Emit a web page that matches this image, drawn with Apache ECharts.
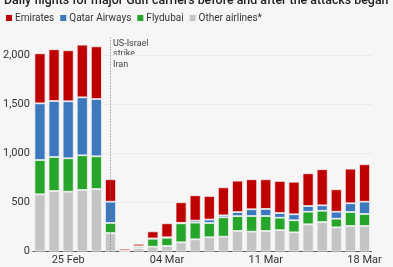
<!DOCTYPE html>
<html>
<head>
<meta charset="utf-8">
<script src="https://cdn.jsdelivr.net/npm/echarts@6/dist/echarts.min.js"></script>
<style>
html,body{margin:0;padding:0;background:#f6f6f6;}
#c{width:393px;height:267px;}
</style>
</head>
<body>
<div id="c"></div>
<script>
const dates = ['23 Feb','24 Feb','25 Feb','26 Feb','27 Feb','28 Feb','01 Mar','02 Mar','03 Mar','04 Mar','05 Mar','06 Mar','07 Mar','08 Mar','09 Mar','10 Mar','11 Mar','12 Mar','13 Mar','14 Mar','15 Mar','16 Mar','17 Mar','18 Mar'];
const tickLabels = ['25 Feb','04 Mar','11 Mar','18 Mar'];
const yTicks = [0, 500, 1000, 1500, 2000];
const other    = [582, 616, 609, 626, 636, 188,  8, 33, 49, 56,  94, 124, 145, 151, 210, 202, 209, 217, 195, 277, 300, 246, 260, 260];
const flydubai = [349, 346, 340, 353, 333, 102,  0, 15, 81, 84, 193, 170, 145, 197, 150, 159, 152, 127, 123, 128, 115,  88, 142, 122];
const qatar    = [577, 570, 580, 590, 583, 217,  0,  5,  3,  5,   5,  20,  35,  20,  41,  69,  72,  48,  61,  58,  55,  71,  89, 125];
const emirates = [509, 526, 519, 536, 536, 228, 20, 25, 72, 142, 209, 258, 240, 285, 320, 305, 302, 326, 331, 333, 367, 228, 352, 381];
const strikeDate = '28 Feb';
const annotation = 'US-Israel\nstrike\nIran';
const titleText = 'Daily flights for major Gulf carriers before and after the attacks began';

const FONT = 'Roboto, "Noto Sans", sans-serif';
const chart = echarts.init(document.getElementById('c'), null, {renderer:'canvas'});

function mk(name, data, color, extra) {
  return Object.assign({
    name: name, type: 'bar', stack: 'all', data: data,
    barCategoryGap: '22%',
    itemStyle: {color: color, borderColor: '#f4f4f4', borderWidth: 0.8},
    emphasis: {disabled: true},
    animation: false
  }, extra || {});
}

chart.setOption({
  backgroundColor: '#f6f6f6',
  animation: false,
  textStyle: {fontFamily: FONT},
  title: {
    text: titleText, left: -1, top: -10, padding: [5, 5, 5, 5],
    textStyle: {fontFamily: FONT, fontSize: 12.4, fontWeight: 500, color: '#222'}
  },
  legend: {
    data: ['Emirates','Qatar Airways','Flydubai','Other airlines*'],
    left: 4, top: 13, padding: 0, icon: 'rect', itemWidth: 8, itemHeight: 8, itemGap: 4,
    textStyle: {fontFamily: FONT, fontSize: 10, color: '#333', padding: [0,0,0,-3]},
    selectedMode: false
  },
  grid: {left: 31, right: 21.4, top: 35.35, bottom: 15.5, containLabel: false},
  xAxis: {
    type: 'category', data: dates,
    axisLine: {lineStyle: {color: '#555', width: 1}},
    axisTick: {alignWithLabel: true, length: 4, lineStyle: {color: '#555'},
      interval: function(i, v){ return tickLabels.indexOf(v) >= 0; }},
    axisLabel: {interval: function(i, v){ return tickLabels.indexOf(v) >= 0; },
      fontFamily: FONT, fontSize: 11, color: '#333', margin: 3}
  },
  yAxis: {
    type: 'value', min: 0, max: 2200, interval: 500,
    axisLine: {show: false}, axisTick: {show: false},
    axisLabel: {fontFamily: FONT, fontSize: 11, color: '#333', margin: 3,
      formatter: function(v){ return yTicks.indexOf(v) >= 0 ? v.toLocaleString('en-US') : ''; }},
    splitLine: {lineStyle: {color: ['#ebebeb','#ebebeb','#ebebeb','#ebebeb','#ebebeb','rgba(0,0,0,0)'], width: 1}}
  },
  series: [
    mk('Other airlines*', other, '#c4c4c4', {
      markLine: {
        silent: true, symbol: 'none', animation: false,
        label: {show: false},
        lineStyle: {color: '#777', type: [1, 2], width: 1},
        data: [[{coord: [strikeDate, 0]}, {coord: [strikeDate, 2175]}]]
      }
    }),
    mk('Flydubai', flydubai, '#25a52a'),
    mk('Qatar Airways', qatar, '#3b78bd'),
    mk('Emirates', emirates, '#bf0000')
  ],
  graphic: [{
    type: 'text', left: 113, top: 38,
    style: {text: annotation, font: '9px ' + FONT, fill: '#444', lineHeight: 10.5}
  }]
});
</script>
</body>
</html>
